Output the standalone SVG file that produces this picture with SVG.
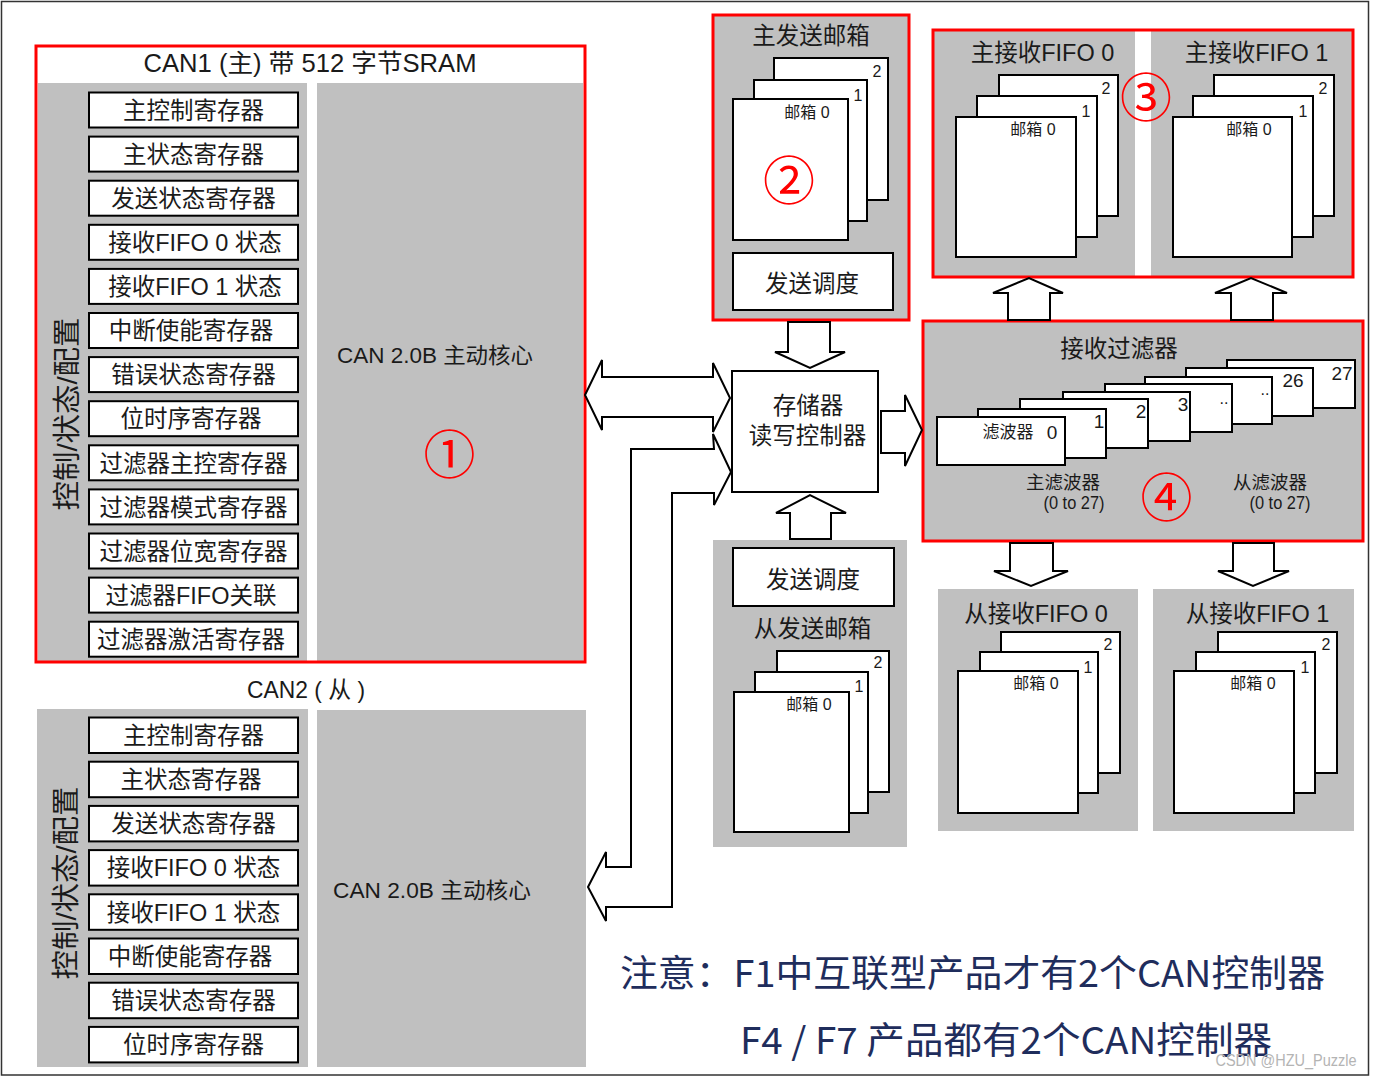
<svg xmlns="http://www.w3.org/2000/svg" width="1373" height="1078" viewBox="0 0 1373 1078">
<style>
.bg{fill:#fff}
.g{fill:#c0c0c0}
.box{fill:#fff;stroke:#000;stroke-width:2}
.red{fill:none;stroke:#f00;stroke-width:3}
.t{font-family:"Liberation Sans","Noto Sans CJK SC",sans-serif;fill:#1a1a1a;text-anchor:middle}
.r{font-size:23.5px}
.s{font-size:16px}
.d{font-size:19px}
.circ{font-family:"Noto Sans CJK SC",sans-serif;fill:#f00;text-anchor:middle;font-size:52px}
.arrow{fill:#fff;stroke:#000;stroke-width:2;stroke-linejoin:miter}
.note{font-family:"Noto Sans CJK SC",sans-serif;fill:#1f2d5c;font-size:37px}
</style>
<rect class="bg" x="0" y="0" width="1373" height="1078"/>
<rect x="1.5" y="1.5" width="1367" height="1073.5" fill="none" stroke="#333" stroke-width="1.5"/>

<!-- CAN1 -->
<g id="can1">
<rect class="g" x="38" y="83" width="269" height="578"/>
<rect class="g" x="317" y="83" width="266" height="578"/>
<rect class="red" x="36" y="46" width="549" height="616"/>
<text class="t" x="310" y="72" font-size="25" textLength="333" lengthAdjust="spacingAndGlyphs">CAN1 (主) 带 512 字节SRAM</text>
<text class="t" transform="translate(67,414) rotate(-90)" x="0" y="10" font-size="28" textLength="193" lengthAdjust="spacingAndGlyphs">控制/状态/配置</text>
<text class="t" x="435" y="363" font-size="22" textLength="196" lengthAdjust="spacingAndGlyphs">CAN 2.0B 主动核心</text>
<g id="can1-regs">
<rect class="box" x="89" y="92.5" width="209" height="35"/><text class="t r" x="193.5" y="118.7">主控制寄存器</text>
<rect class="box" x="89" y="136.6" width="209" height="35"/><text class="t r" x="193.5" y="162.8">主状态寄存器</text>
<rect class="box" x="89" y="180.7" width="209" height="35"/><text class="t r" x="193.5" y="206.9">发送状态寄存器</text>
<rect class="box" x="89" y="224.8" width="209" height="35"/><text class="t r" x="195" y="251">接收FIFO 0 状态</text>
<rect class="box" x="89" y="268.9" width="209" height="35"/><text class="t r" x="195" y="295.1">接收FIFO 1 状态</text>
<rect class="box" x="89" y="313" width="209" height="35"/><text class="t r" x="191" y="339.2">中断使能寄存器</text>
<rect class="box" x="89" y="357.1" width="209" height="35"/><text class="t r" x="193.5" y="383.3">错误状态寄存器</text>
<rect class="box" x="89" y="401.2" width="209" height="35"/><text class="t r" x="191" y="427.4">位时序寄存器</text>
<rect class="box" x="89" y="445.3" width="209" height="35"/><text class="t r" x="193.5" y="471.5">过滤器主控寄存器</text>
<rect class="box" x="89" y="489.4" width="209" height="35"/><text class="t r" x="193.5" y="515.6">过滤器模式寄存器</text>
<rect class="box" x="89" y="533.5" width="209" height="35"/><text class="t r" x="193.5" y="559.7">过滤器位宽寄存器</text>
<rect class="box" x="89" y="577.6" width="209" height="35"/><text class="t r" x="191" y="603.8">过滤器FIFO关联</text>
<rect class="box" x="89" y="621.7" width="209" height="35"/><text class="t r" x="191" y="647.9">过滤器激活寄存器</text>
</g>
<text class="circ" x="449.5" y="474">①</text>
</g>

<!-- CAN2 -->
<g id="can2">
<text class="t" x="306" y="698" font-size="24" textLength="118" lengthAdjust="spacingAndGlyphs">CAN2 ( 从 )</text>
<rect class="g" x="37" y="709" width="271" height="358"/>
<rect class="g" x="317" y="710" width="269" height="357"/>
<text class="t" transform="translate(66,883) rotate(-90)" x="0" y="10" font-size="28" textLength="193" lengthAdjust="spacingAndGlyphs">控制/状态/配置</text>
<text class="t" x="432" y="898" font-size="22" textLength="198" lengthAdjust="spacingAndGlyphs">CAN 2.0B 主动核心</text>
<g id="can2-regs">
<rect class="box" x="89" y="717.5" width="209" height="35.5"/><text class="t r" x="193.5" y="743.8">主控制寄存器</text>
<rect class="box" x="89" y="761.7" width="209" height="35.5"/><text class="t r" x="191" y="788">主状态寄存器</text>
<rect class="box" x="89" y="805.9" width="209" height="35.5"/><text class="t r" x="193.5" y="832.2">发送状态寄存器</text>
<rect class="box" x="89" y="850.1" width="209" height="35.5"/><text class="t r" x="193.5" y="876.4">接收FIFO 0 状态</text>
<rect class="box" x="89" y="894.3" width="209" height="35.5"/><text class="t r" x="193.5" y="920.6">接收FIFO 1 状态</text>
<rect class="box" x="89" y="938.5" width="209" height="35.5"/><text class="t r" x="190" y="964.8">中断使能寄存器</text>
<rect class="box" x="89" y="982.7" width="209" height="35.5"/><text class="t r" x="193.5" y="1009">错误状态寄存器</text>
<rect class="box" x="89" y="1026.9" width="209" height="35.5"/><text class="t r" x="193.5" y="1053.2">位时序寄存器</text>
</g>
</g>

<!-- Master transmit mailboxes -->
<g id="master-tx">
<rect class="g" x="713" y="15" width="196" height="305"/>
<rect class="red" x="713" y="15" width="196" height="305"/>
<text class="t r" x="811" y="43.7">主发送邮箱</text>
<rect class="box" x="774" y="58" width="114" height="142"/>
<rect class="box" x="754" y="80" width="113" height="141"/>
<rect class="box" x="733" y="99" width="115" height="141"/>
<text class="t s" x="877" y="77.4">2</text>
<text class="t s" x="858" y="100.7">1</text>
<text class="t s" x="807" y="117.7">邮箱 0</text>
<rect class="box" x="733" y="253" width="160" height="57"/>
<text class="t r" x="812" y="291.7">发送调度</text>
<text class="circ" x="789" y="199.5">②</text>
</g>

<!-- Memory controller -->
<g id="mem-ctrl">
<rect class="box" x="732" y="371" width="146" height="121"/>
<text class="t r" x="808" y="413.7">存储器</text>
<text class="t r" x="807.5" y="443.7">读写控制器</text>
</g>

<!-- Master receive FIFOs -->
<g id="master-rx">
<rect class="g" x="933" y="30" width="202" height="247"/>
<rect class="g" x="1151" y="30" width="202" height="247"/>
<rect class="red" x="933" y="30" width="420" height="247"/>
<text class="t r" x="1042.5" y="61">主接收FIFO 0</text>
<text class="t r" x="1256.5" y="61">主接收FIFO 1</text>
<rect class="box" x="999" y="75" width="119" height="141"/>
<rect class="box" x="977" y="96" width="120" height="141"/>
<rect class="box" x="956" y="117" width="120" height="140"/>
<text class="t s" x="1106" y="94">2</text>
<text class="t s" x="1086" y="117">1</text>
<text class="t s" x="1033" y="135">邮箱 0</text>
<rect class="box" x="1214" y="75" width="120" height="141"/>
<rect class="box" x="1193" y="96" width="120" height="141"/>
<rect class="box" x="1173" y="117" width="119" height="140"/>
<text class="t s" x="1323" y="94">2</text>
<text class="t s" x="1303" y="117">1</text>
<text class="t s" x="1249" y="135">邮箱 0</text>
<text class="circ" x="1146" y="117">③</text>
</g>

<!-- Receive filters -->
<g id="filters">
<rect class="g" x="923" y="321" width="440" height="220"/>
<rect class="red" x="923" y="321" width="440" height="220"/>
<text class="t r" x="1119" y="356.7">接收过滤器</text>
<rect class="box" x="1227" y="360" width="128" height="48"/><text class="t d" x="1342" y="380">27</text>
<rect class="box" x="1186" y="368" width="127" height="48"/><text class="t d" x="1293" y="387">26</text>
<rect class="box" x="1145" y="377" width="127" height="47"/><text class="t s" x="1265" y="395">..</text>
<rect class="box" x="1105" y="384" width="127" height="48"/><text class="t s" x="1224" y="404">..</text>
<rect class="box" x="1063" y="392" width="127" height="49"/><text class="t d" x="1183" y="411">3</text>
<rect class="box" x="1020" y="399" width="128" height="49"/><text class="t d" x="1141" y="418">2</text>
<rect class="box" x="978" y="409" width="128" height="49"/><text class="t d" x="1099" y="428">1</text>
<rect class="box" x="937" y="417" width="128" height="48"/>
<text class="t" x="1008" y="438.3" font-size="17">滤波器</text>
<text class="t d" x="1052" y="439">0</text>
<text class="t" x="1063" y="488.5" font-size="18.5">主滤波器</text>
<text class="t" x="1074" y="509" font-size="18" textLength="61" lengthAdjust="spacingAndGlyphs">(0 to 27)</text>
<text class="t" x="1270" y="488.5" font-size="18.5">从滤波器</text>
<text class="t" x="1280" y="509" font-size="18" textLength="61" lengthAdjust="spacingAndGlyphs">(0 to 27)</text>
<text class="circ" x="1166.5" y="517">④</text>
</g>

<!-- Slave transmit mailboxes -->
<g id="slave-tx">
<rect class="g" x="713" y="540" width="194" height="307"/>
<rect class="box" x="733" y="548" width="161" height="58"/>
<text class="t r" x="813" y="587.7">发送调度</text>
<text class="t r" x="812.5" y="636.7">从发送邮箱</text>
<rect class="box" x="777" y="651" width="112" height="141"/>
<rect class="box" x="755" y="672" width="113" height="141"/>
<rect class="box" x="734" y="692" width="115" height="140"/>
<text class="t s" x="878" y="668.4">2</text>
<text class="t s" x="859" y="692.4">1</text>
<text class="t s" x="809" y="710">邮箱 0</text>
</g>

<!-- Slave receive FIFOs -->
<g id="slave-rx">
<rect class="g" x="938" y="589" width="200" height="242"/>
<rect class="g" x="1153" y="589" width="201" height="242"/>
<text class="t r" x="1036" y="622">从接收FIFO 0</text>
<text class="t r" x="1257.5" y="622">从接收FIFO 1</text>
<rect class="box" x="1001" y="632" width="119" height="141"/>
<rect class="box" x="980" y="652" width="118" height="141"/>
<rect class="box" x="958" y="671" width="120" height="142"/>
<text class="t s" x="1108" y="650">2</text>
<text class="t s" x="1088" y="673">1</text>
<text class="t s" x="1036" y="689">邮箱 0</text>
<rect class="box" x="1218" y="632" width="119" height="141"/>
<rect class="box" x="1196" y="652" width="119" height="141"/>
<rect class="box" x="1174" y="671" width="120" height="142"/>
<text class="t s" x="1326" y="650">2</text>
<text class="t s" x="1305" y="673">1</text>
<text class="t s" x="1253" y="689">邮箱 0</text>
</g>

<!-- Connectors -->
<g id="connectors">
<path class="arrow" d="M585,395 L602,360 L602,377 L713,377 L713,363 L730,398 L713,432 L713,417 L602,417 L602,430 Z"/>
<path class="arrow" d="M606,852 L588,887 L606,921 L606,907 L672,907 L672,493 L714,493 L714,505 L731,472 L713,434 L714,449 L631,449 L631,867 L606,867 Z"/>
<path class="arrow" d="M788,322 L830,322 L830,352 L845,352 L810,368 L775,352 L788,352 Z"/>
<path class="arrow" d="M790,539 L790,513 L776,513 L810,495 L846,513 L831,513 L831,539 Z"/>
<path class="arrow" d="M881,411 L905,411 L905,395 L922,430 L905,466 L905,453 L881,453 Z"/>
<path class="arrow" d="M1008,320 L1008,293 L993,293 L1029,278 L1063,293 L1050,293 L1050,320 Z"/>
<path class="arrow" d="M1231,320 L1231,293 L1215,293 L1251,278 L1287,293 L1273,293 L1273,320 Z"/>
<path class="arrow" d="M1010,543 L1053,543 L1053,571 L1068,571 L1031,586 L994,571 L1010,571 Z"/>
<path class="arrow" d="M1233,543 L1274,543 L1274,571 L1289,571 L1253,586 L1218,571 L1233,571 Z"/>
</g>

<!-- Note -->
<g id="note">
<text class="note" x="620" y="987" textLength="705" lengthAdjust="spacingAndGlyphs">注意：F1中互联型产品才有2个CAN控制器</text>
<text class="note" x="740" y="1054" textLength="532" lengthAdjust="spacingAndGlyphs">F4 / F7 产品都有2个CAN控制器</text>
<text x="1286" y="1066" font-family="Liberation Sans, sans-serif" font-size="16" fill="#b4b4b4" text-anchor="middle" textLength="141" lengthAdjust="spacingAndGlyphs">CSDN @HZU_Puzzle</text>
</g>
</svg>
